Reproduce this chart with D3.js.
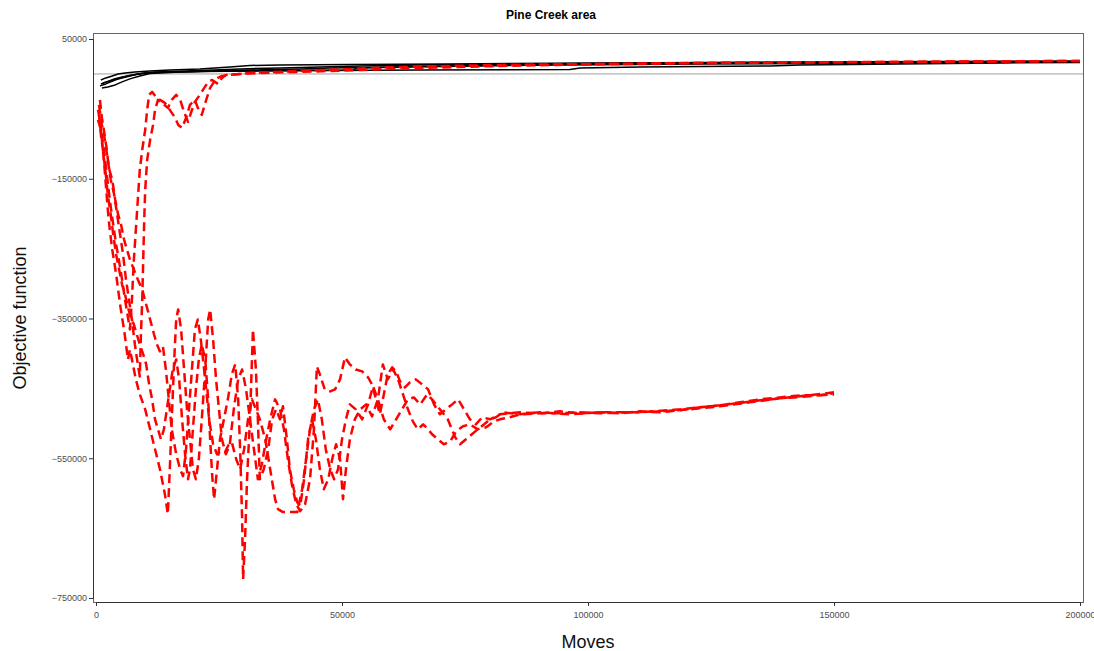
<!DOCTYPE html>
<html>
<head>
<meta charset="utf-8">
<script src="https://cdn.jsdelivr.net/npm/d3@7"></script>
<style>
  body { margin: 0; background: #fff; }
  svg { font-family: "Liberation Sans", Arial, sans-serif; }
  .tick text { fill: #4d4d4d; font-size: 9px; }
  .tick line { stroke: #333; }
</style>
</head>
<body>
<div id="chart"></div>
<script>
// tick labels
var xTicks = [0, 50000, 100000, 150000, 200000];
var yTicks = [50000, -150000, -350000, -550000, -750000];

// solid runs (black), [moves, objective]
var blackRun1 = [[1000,-8600],[2000,-5700],[3300,-2900],[4500,0],[5900,1400],[7900,2900],[11000,4300],[15000,5700],[21100,7100],[27200,10000],[31300,12100],[37400,12900],[51600,13600],[72000,14300],[102400,15700],[143100,17100],[200000,18600]];
var blackRun2 = [[800,-17100],[2000,-14300],[3500,-10000],[4900,-5700],[6500,-2900],[8500,0],[11000,2100],[15000,3600],[21100,5000],[29300,7100],[37400,8600],[45500,10000],[53700,11400],[65900,12900],[86200,14300],[112600,15700],[153300,17100],[200000,17900]];
var blackRun3 = [[1200,-20000],[2400,-18600],[3900,-15700],[5300,-11400],[6900,-7100],[8900,-2900],[11000,700],[17100,2900],[25200,4300],[37400,5000],[51600,5700],[53700,8600],[61800,10000],[78000,11400],[94300,12900],[122800,14300],[163400,15700],[200000,17100]];
var blackRun4 = [[1000,-14300],[2200,-11400],[3700,-7100],[5300,-4300],[7300,-1400],[10000,1400],[13000,2900],[21100,3600],[33300,4300],[47600,5000],[65900,5700],[96300,6400],[98400,8600],[110600,10000],[137000,11400],[143100,12900],[163400,14300],[183700,15700],[200000,16400]];
var blackRun5 = [[1400,-12900],[2800,-10000],[4500,-7100],[6100,-4300],[7700,-1400],[9300,700],[12000,2100],[17100,2900],[23200,4300],[31300,5700],[41500,7100],[47600,8600],[61800,10000],[72000,11400],[86200,12900],[102400,14300],[132900,15700],[173600,16400],[200000,17100]];

// dashed runs (red), [moves, objective]
var redRun1 = [[400,-65700],[1000,-80000],[1600,-108600],[2200,-144300],[2800,-180000],[3500,-215700],[4100,-244300],[4700,-268600],[5300,-294300],[5900,-322900],[6500,-348600],[6900,-365700],[7300,-322900],[7700,-265700],[8100,-222900],[8500,-180000],[8900,-137100],[9400,-108600],[10000,-80000],[10400,-51400],[10800,-30000],[11400,-25700],[12200,-32900],[13000,-37100],[14000,-41400],[15000,-51400],[16100,-62900],[16700,-72900],[17500,-77100],[18300,-62900],[19100,-44300],[20100,-37100],[20700,-48600],[21500,-58600],[22400,-37100],[23200,-20000],[24000,-11400],[24800,-5700],[25600,-2900],[27200,-1400],[31300,1400],[41500,4300],[51600,7100],[61800,10000],[82100,12900],[102400,14300],[122800,15700],[143100,16400],[163400,17100],[183700,17900],[200000,18600]];
var redRun2 = [[600,-44300],[1200,-72900],[1800,-94300],[2400,-122900],[3000,-151400],[3700,-172900],[4300,-201400],[4900,-230000],[5500,-258600],[6100,-294300],[6700,-322900],[7300,-351400],[7900,-387100],[8500,-415700],[8900,-432900],[9100,-380000],[9400,-322900],[9600,-265700],[9800,-208600],[10000,-165700],[10400,-122900],[11000,-94300],[11600,-72900],[12000,-51400],[12600,-37100],[13400,-41400],[14600,-48600],[15400,-37100],[16300,-30000],[17100,-37100],[17900,-54300],[18700,-68600],[19500,-51400],[20100,-40000],[21100,-30000],[22000,-20000],[22800,-11400],[23600,-8600],[24800,-14300],[25600,-5700],[26400,-1400],[29300,0],[33300,1400],[41500,2900],[53700,5700],[65900,8600],[82100,11400],[98400,13600],[114600,15000],[135000,16400],[159300,17100],[179700,17900],[200000,18600]];
var redRun3 = [[400,-51400],[800,-65700],[1200,-94300],[1600,-122900],[2000,-158600],[2400,-194300],[2800,-222900],[3300,-251400],[3700,-268600],[4100,-287100],[4500,-308600],[4900,-330000],[5300,-348600],[5700,-365700],[6100,-387100],[6500,-408600],[6900,-394300],[7500,-415700],[8100,-437100],[8900,-458600],[10000,-480000],[11000,-508600],[12000,-537100],[13000,-565700],[14000,-601400],[14600,-630000],[15000,-565700],[15400,-494300],[15900,-408600],[16300,-351400],[16700,-337100],[17300,-365700],[17900,-422900],[18500,-480000],[19100,-522900],[19700,-565700],[20300,-580000],[20900,-551400],[21500,-494300],[22200,-422900],[22800,-351400],[23200,-337100],[23800,-380000],[24400,-437100],[25000,-480000],[25600,-522900],[26400,-544300],[27200,-530000],[28000,-480000],[28900,-437100],[29700,-422900],[30500,-451400],[31300,-494300],[32100,-537100],[32900,-580000],[33700,-558600],[34600,-522900],[35400,-494300],[36400,-465700],[37400,-480000],[38200,-508600],[39000,-551400],[39800,-587100],[40700,-615700],[41500,-625700],[42500,-615700],[43500,-580000],[44300,-508600],[44900,-418600],[45500,-430000],[46500,-451400],[47600,-454300],[48600,-451400],[49600,-437100],[50600,-405700],[51600,-415700],[52800,-422900],[54100,-425700],[55300,-434300],[56100,-444300],[56900,-465700],[57700,-487100],[58500,-458600],[59300,-430000],[60200,-420000],[61000,-425700],[61800,-440000],[62800,-448600],[63800,-441400],[65000,-437100],[66300,-444300],[67500,-451400],[68700,-472900],[69900,-487100],[71100,-480000],[72400,-472900],[73600,-465700],[74800,-480000],[76000,-494300],[77200,-501400],[78500,-491400],[80100,-494300],[82100,-487100],[86200,-484300],[90200,-485700],[94300,-482900],[98400,-485700],[102400,-484300],[106500,-485700],[110600,-482900],[114600,-484300],[118700,-481400],[122800,-477100],[126800,-474300],[130900,-470000],[135000,-465700],[139000,-462900],[143100,-460000],[147200,-460000],[150000,-458600]];
var redRun4 = [[600,-58600],[1000,-87100],[1400,-108600],[2000,-144300],[2400,-172900],[3000,-201400],[3500,-230000],[4100,-258600],[4700,-280000],[5300,-301400],[5900,-315700],[6500,-334300],[7100,-348600],[7700,-358600],[8300,-372900],[8900,-387100],[9600,-401400],[10200,-415700],[10800,-444300],[11400,-465700],[12000,-494300],[12600,-508600],[13200,-522900],[13800,-508600],[14400,-480000],[15000,-451400],[15600,-422900],[16300,-408600],[16900,-437100],[17500,-494300],[18100,-544300],[18700,-580000],[19100,-565700],[19700,-508600],[20300,-451400],[20900,-408600],[21500,-387100],[22200,-408600],[22800,-465700],[23200,-522900],[23600,-572900],[24000,-608600],[24600,-565700],[25200,-522900],[26000,-494300],[26800,-465700],[27600,-430000],[28300,-415700],[28900,-465700],[29300,-537100],[29700,-637100],[29900,-722900],[30300,-665700],[30700,-580000],[31300,-494300],[31900,-365700],[32500,-422900],[32900,-494300],[33300,-580000],[34100,-565700],[35000,-537100],[35800,-494300],[36600,-480000],[37400,-494300],[38000,-475700],[38800,-522900],[39400,-565700],[40200,-594300],[40900,-612900],[41500,-618600],[42300,-580000],[43100,-522900],[43900,-494300],[44700,-522900],[45500,-565700],[46300,-594300],[47200,-580000],[48000,-551400],[48800,-530000],[49600,-551400],[50200,-608600],[50800,-565700],[51600,-522900],[52600,-494300],[53700,-480000],[54900,-472900],[56100,-490000],[57300,-465700],[58300,-415700],[59300,-437100],[60400,-422900],[61400,-437100],[62400,-458600],[63400,-480000],[64400,-497100],[65400,-508600],[66500,-501400],[67500,-508600],[68300,-515700],[69500,-522900],[70700,-530000],[72000,-525700],[73200,-511400],[74600,-504300],[76000,-501400],[77600,-508600],[79300,-505700],[80900,-497100],[82100,-494300],[84100,-491400],[86200,-487100],[90200,-485700],[94300,-485700],[98400,-484300],[102400,-485700],[108500,-484300],[114600,-482900],[120700,-480000],[126800,-475700],[132900,-470000],[139000,-464300],[145100,-461400],[150000,-457100]];
var redRun5 = [[800,-37100],[1200,-62900],[1600,-80000],[2200,-108600],[2600,-134300],[3300,-151400],[3900,-180000],[4500,-201400],[5100,-215700],[5700,-237100],[6300,-251400],[6900,-265700],[7700,-280000],[8500,-294300],[9400,-308600],[10200,-330000],[11000,-351400],[11800,-372900],[12400,-387100],[13000,-397100],[13600,-390000],[14200,-422900],[14800,-465700],[15400,-508600],[16300,-544300],[17100,-565700],[17700,-575700],[18300,-537100],[18900,-480000],[19500,-422900],[20100,-365700],[20700,-351400],[21300,-380000],[22200,-437100],[23000,-494300],[23800,-530000],[24600,-544300],[25400,-540000],[26200,-541400],[27000,-530000],[27600,-527100],[28500,-551400],[29300,-565700],[30100,-537100],[30900,-494300],[31700,-465700],[32500,-480000],[33300,-494300],[34400,-522900],[35400,-565700],[36400,-608600],[37000,-622900],[38000,-627100],[39400,-627100],[40900,-627100],[41900,-594300],[42700,-551400],[43500,-508600],[44300,-480000],[45100,-465700],[45900,-494300],[46700,-537100],[47600,-565700],[48400,-580000],[49200,-565700],[50000,-522900],[50800,-494300],[51600,-472900],[52800,-480000],[54100,-494300],[55300,-472900],[56300,-447100],[57300,-465700],[58500,-494300],[59800,-508600],[61000,-494300],[62200,-480000],[63400,-465700],[64600,-462900],[65900,-472900],[67300,-458600],[68300,-465700],[69900,-480000],[71500,-494300],[73000,-520000],[74000,-530000],[75200,-522900],[76400,-515700],[77600,-508600],[78900,-501400],[80100,-494300],[81300,-491400],[82700,-484300],[86200,-487100],[90200,-484300],[96300,-487100],[102400,-484300],[110600,-484300],[118700,-480000],[126800,-474300],[135000,-467100],[143100,-461400],[150000,-455700]];

var blackRuns = [blackRun1, blackRun2, blackRun3, blackRun4, blackRun5];
var redRuns = [redRun1, redRun2, redRun3, redRun4, redRun5];

var width = 1094, height = 651;
var panel = { left: 93, right: 1083, top: 33, bottom: 602 };

var svg = d3.select("#chart").append("svg")
    .attr("width", width)
    .attr("height", height);

var x = d3.scaleLinear()
    .domain([0, 200000])
    .range([96, 1080]);

var y = d3.scaleLinear()
    .domain([50000, -750000])
    .range([39, 598]);

// reference line at zero
svg.append("line")
    .attr("x1", panel.left).attr("x2", panel.right)
    .attr("y1", y(0)).attr("y2", y(0))
    .attr("stroke", "#a0a0a0")
    .attr("stroke-width", 1);

var line = d3.line()
    .x(function(d) { return x(d[0]); })
    .y(function(d) { return y(d[1]); });

svg.selectAll(".black-run")
    .data(blackRuns)
    .enter().append("path")
    .attr("class", "black-run")
    .attr("d", line)
    .attr("fill", "none")
    .attr("stroke", "#000")
    .attr("stroke-width", 1.5)
    .attr("stroke-linejoin", "round");

svg.selectAll(".red-run")
    .data(redRuns)
    .enter().append("path")
    .attr("class", "red-run")
    .attr("d", line)
    .attr("fill", "none")
    .attr("stroke", "#ff0000")
    .attr("stroke-width", 2.5)
    .attr("stroke-dasharray", "9,5")
    .attr("stroke-linejoin", "round");

// panel border
svg.append("rect")
    .attr("x", panel.left + 0.5)
    .attr("y", panel.top + 0.5)
    .attr("width", panel.right - panel.left)
    .attr("height", panel.bottom - panel.top)
    .attr("fill", "none")
    .attr("stroke", "#666")
    .attr("stroke-width", 1);

// axes
var yAxis = svg.append("g")
    .attr("transform", "translate(" + panel.left + ",0)")
    .call(d3.axisLeft(y).tickValues(yTicks).tickSize(4).tickPadding(2).tickFormat(d3.format("d")));
yAxis.select(".domain").attr("stroke", "#333");

var xAxis = svg.append("g")
    .attr("transform", "translate(0," + panel.bottom + ")")
    .call(d3.axisBottom(x).tickValues(xTicks).tickSize(4).tickPadding(6).tickFormat(d3.format("d")));
xAxis.select(".domain").attr("stroke", "#333");

// titles
svg.append("text")
    .attr("x", 551)
    .attr("y", 19)
    .attr("text-anchor", "middle")
    .attr("font-size", "12px")
    .attr("font-weight", "bold")
    .text("Pine Creek area");

svg.append("text")
    .attr("x", 588)
    .attr("y", 648)
    .attr("text-anchor", "middle")
    .attr("font-size", "18px")
    .attr("fill", "#111")
    .text("Moves");

svg.append("text")
    .attr("transform", "translate(26,318) rotate(-90)")
    .attr("text-anchor", "middle")
    .attr("font-size", "18px")
    .attr("fill", "#111")
    .text("Objective function");
</script>
</body>
</html>
